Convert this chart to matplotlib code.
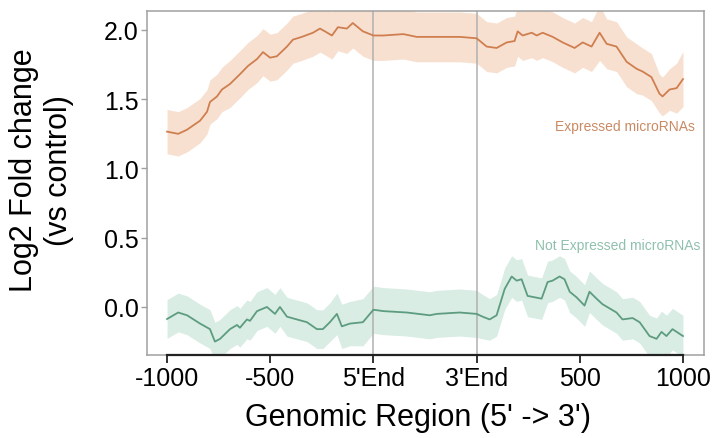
import numpy as np
import matplotlib
matplotlib.use("Agg")
from matplotlib import pyplot as plt

plt.rcParams['font.family'] = ['Liberation Sans', 'DejaVu Sans']

# position along the meta-gene axis: -1000..0 upstream, 0..500 gene body, 500..1500 downstream
expr_x = [-1000, -946, -903, -874, -840, -806, -792, -758, -734, -695, -647, -608, -564, -535,
          -501, -468, -419, -390, -347, -293, -259, -235, -201, -172, -129, -100, -51, 0,
          48, 145, 210, 307, 418, 500, 549, 597, 646, 684, 699, 723, 767, 791, 820, 869,
          917, 975, 1014, 1057, 1096, 1130, 1178, 1227, 1275, 1304, 1347, 1386, 1401,
          1435, 1469, 1500]
expr_y = [1.266, 1.25, 1.28, 1.31, 1.345, 1.41, 1.48, 1.52, 1.57, 1.61, 1.68, 1.74, 1.79, 1.84,
          1.80, 1.81, 1.88, 1.93, 1.95, 1.98, 2.01, 1.99, 1.96, 2.02, 2.01, 2.05, 1.99, 1.96,
          1.96, 1.97, 1.95, 1.95, 1.95, 1.94, 1.88, 1.87, 1.91, 1.92, 1.99, 1.96, 1.98, 1.96,
          1.98, 1.95, 1.91, 1.87, 1.91, 1.88, 1.98, 1.90, 1.88, 1.77, 1.72, 1.70, 1.66, 1.54,
          1.52, 1.57, 1.58, 1.645]
expr_err = [0.16, 0.16, 0.16, 0.16, 0.16, 0.16, 0.16, 0.16, 0.16, 0.17, 0.17, 0.17, 0.17, 0.17,
            0.17, 0.17, 0.17, 0.17, 0.17, 0.17, 0.17, 0.17, 0.17, 0.17, 0.18, 0.18, 0.18, 0.18,
            0.18, 0.18, 0.18, 0.18, 0.18, 0.18, 0.18, 0.18, 0.18, 0.18, 0.18, 0.18, 0.18, 0.18,
            0.18, 0.18, 0.18, 0.18, 0.18, 0.18, 0.20, 0.18, 0.18, 0.18, 0.18, 0.17, 0.17, 0.14,
            0.14, 0.15, 0.18, 0.20]

notexpr_x = [-1000, -946, -903, -840, -792, -768, -743, -695, -661, -647, -613, -598, -564,
             -516, -477, -453, -419, -371, -322, -274, -245, -211, -177, -153, -114, -51, 0,
             48, 162, 273, 307, 418, 500, 529, 563, 597, 636, 670, 694, 718, 747, 815, 844,
             868, 902, 926, 951, 984, 1023, 1047, 1081, 1110, 1178, 1207, 1256, 1290, 1338,
             1372, 1396, 1420, 1449, 1500]
notexpr_y = [-0.087, -0.04, -0.06, -0.12, -0.16, -0.25, -0.23, -0.16, -0.13, -0.15, -0.09, -0.10,
             -0.03, 0.0, -0.05, 0.0, -0.07, -0.09, -0.11, -0.16, -0.16, -0.11, -0.05, -0.14,
             -0.12, -0.11, -0.02, -0.03, -0.04, -0.06, -0.05, -0.04, -0.05, -0.07, -0.09, -0.06,
             0.13, 0.22, 0.19, 0.20, 0.08, 0.06, 0.18, 0.19, 0.22, 0.20, 0.11, 0.07, 0.01, 0.11,
             0.06, 0.02, -0.04, -0.09, -0.08, -0.11, -0.21, -0.23, -0.18, -0.21, -0.16, -0.21]
notexpr_err = [0.14, 0.14, 0.14, 0.14, 0.14, 0.14, 0.14, 0.14, 0.14, 0.14, 0.14, 0.14, 0.14,
               0.14, 0.14, 0.14, 0.14, 0.14, 0.14, 0.14, 0.14, 0.14, 0.15, 0.16, 0.16, 0.17,
               0.17, 0.17, 0.17, 0.17, 0.17, 0.17, 0.17, 0.16, 0.15, 0.15, 0.15, 0.15, 0.15,
               0.15, 0.15, 0.15, 0.15, 0.15, 0.15, 0.15, 0.15, 0.15, 0.15, 0.15, 0.15, 0.15,
               0.15, 0.15, 0.15, 0.15, 0.15, 0.15, 0.15, 0.15, 0.15, 0.15]

tick_pos = [-1000, -500, 0, 500, 1000, 1500]
tick_labels = ['-1000', '-500', "5'End", "3'End", '500', '1000']
y_ticks = [0.0, 0.5, 1.0, 1.5, 2.0]

orange = '#cf7f4f'
orange_fill = '#f8e0d1'
green = '#5e9c80'
green_fill = '#d9ede4'

fig = plt.figure(figsize=(7.12, 4.39), dpi=100)
ax = fig.add_axes([0.2065, 0.189, 0.7823, 0.7837])

ex_x = np.array(expr_x)
ex_y = np.array(expr_y)
ex_e = np.array(expr_err)
ne_x = np.array(notexpr_x)
ne_y = np.array(notexpr_y)
ne_e = np.array(notexpr_err)

ax.fill_between(ex_x, ex_y - ex_e, ex_y + ex_e, color=orange_fill, lw=0, zorder=1)
ax.fill_between(ne_x, ne_y - ne_e, ne_y + ne_e, color=green_fill, lw=0, zorder=1)
ax.plot(ex_x, ex_y, color=orange, lw=1.3, zorder=3)
ax.plot(ne_x, ne_y, color=green, lw=1.3, zorder=3)

for p in [0, 500]:
    ax.axvline(p, color='#b0b0b0', lw=1.1, zorder=2)

ax.text(1556, 1.31, 'Expressed microRNAs', color='#c98a63', fontsize=10, ha='right', va='center')
ax.text(1582, 0.45, 'Not Expressed microRNAs', color='#8fc0ab', fontsize=10, ha='right', va='center')

ax.set_xlim(-1097, 1602)
ax.set_ylim(-0.347, 2.137)
ax.set_xticks(tick_pos)
ax.set_xticklabels(tick_labels)
ax.set_yticks(y_ticks)
ax.set_yticklabels(['%.1f' % v for v in y_ticks])
ax.tick_params(axis='x', labelsize=18, length=6, width=1.3, color='#222222', pad=2)
ax.tick_params(axis='y', labelsize=18, length=4, width=1, color='#a0a0a0', pad=2)

for s in ax.spines.values():
    s.set_color('#a0a0a0')
    s.set_linewidth(1.1)

# dark x axis line running from first to last tick
ax.plot([tick_pos[0], tick_pos[-1]], [0, 0], transform=ax.get_xaxis_transform(),
        color='#222222', lw=1.6, clip_on=False, zorder=5)

ax.set_ylabel('Log2 Fold change\n(vs control)', fontsize=22)
ax.yaxis.set_label_coords(-0.131, 0.54)
ax.set_xlabel("Genomic Region (5' -> 3')", fontsize=22)
ax.xaxis.set_label_coords(0.487, -0.137)

fig.savefig('out.png', dpi=100)
